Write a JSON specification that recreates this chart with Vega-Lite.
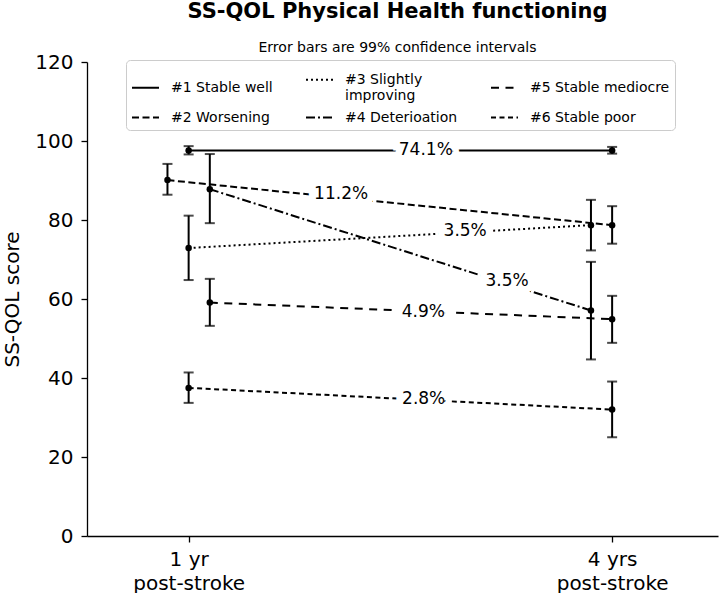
{
  "$schema": "https://vega.github.io/schema/vega-lite/v6.json",
  "width": 631,
  "height": 474,
  "autosize": {"type": "none"},
  "padding": {"left": 87, "top": 62, "right": 2, "bottom": 57},
  "config": {
    "view": {"stroke": null},
    "font": "DejaVu Sans",
    "axis": {
      "grid": false,
      "domainColor": "black",
      "domainWidth": 1.3,
      "tickColor": "black",
      "tickWidth": 1.3,
      "tickSize": 6,
      "labelColor": "black",
      "labelFont": "DejaVu Sans",
      "labelFontSize": 20,
      "titleFont": "DejaVu Sans",
      "titleFontSize": 20,
      "titleFontWeight": "normal",
      "titleColor": "black"
    }
  },
  "title": {
    "text": "SS-QOL Physical Health functioning",
    "subtitle": "Error bars are 99% confidence intervals",
    "font": "DejaVu Sans",
    "subtitleFont": "DejaVu Sans",
    "fontSize": 21,
    "fontWeight": "bold",
    "color": "black",
    "subtitleFontSize": 14,
    "subtitleColor": "black",
    "anchor": "middle",
    "offset": -3,
    "dx": -5,
    "subtitlePadding": 19
  },
  "datasets": {
    "lines": [
      {"group": "#1 Stable well", "x": 0, "mean": 97.6, "lo": 96.6, "hi": 98.7},
      {"group": "#1 Stable well", "x": 1, "mean": 97.6, "lo": 96.8, "hi": 98.5},
      {"group": "#2 Worsening", "x": -0.05, "mean": 90.1, "lo": 86.4, "hi": 94.2},
      {"group": "#2 Worsening", "x": 1, "mean": 78.7, "lo": 74.0, "hi": 83.5},
      {"group": "#3 Slightly improving", "x": 0, "mean": 72.9, "lo": 64.8, "hi": 81.1},
      {"group": "#3 Slightly improving", "x": 0.95, "mean": 78.7, "lo": 72.3, "hi": 85.1},
      {"group": "#4 Deterioation", "x": 0.05, "mean": 87.8, "lo": 79.2, "hi": 96.7},
      {"group": "#4 Deterioation", "x": 0.95, "mean": 57.1, "lo": 44.7, "hi": 69.4},
      {"group": "#5 Stable mediocre", "x": 0.05, "mean": 59.1, "lo": 53.2, "hi": 65.1},
      {"group": "#5 Stable mediocre", "x": 1, "mean": 54.9, "lo": 48.9, "hi": 60.8},
      {"group": "#6 Stable poor", "x": 0, "mean": 37.5, "lo": 33.7, "hi": 41.4},
      {"group": "#6 Stable poor", "x": 1, "mean": 32.0, "lo": 25.0, "hi": 39.1}
    ],
    "labels": [
      {"group": "#1 Stable well", "label": "74.1%", "lx": 0.56, "ly": 97.6},
      {"group": "#2 Worsening", "label": "11.2%", "lx": 0.36, "ly": 86.5},
      {"group": "#3 Slightly improving", "label": "3.5%", "lx": 0.653, "ly": 77.3},
      {"group": "#4 Deterioation", "label": "3.5%", "lx": 0.752, "ly": 64.5},
      {"group": "#5 Stable mediocre", "label": "4.9%", "lx": 0.554, "ly": 56.8},
      {"group": "#6 Stable poor", "label": "2.8%", "lx": 0.555, "ly": 34.7}
    ]
  },
  "layer": [
    {
      "data": {"name": "lines"},
      "mark": {"type": "line", "color": "black", "strokeWidth": 2},
      "encoding": {
        "x": {
          "field": "x", "type": "quantitative", "title": null,
          "scale": {"domain": [-0.24, 1.25], "nice": false, "zero": false},
          "axis": {
            "values": [0, 1],
            "labelExpr": "datum.value == 0 ? ['1 yr', 'post-stroke'] : ['4 yrs', 'post-stroke']",
            "labelLineHeight": 24,
            "labelPadding": 7
          }
        },
        "y": {
          "field": "mean", "type": "quantitative", "title": "SS-QOL score",
          "scale": {"domain": [0, 120], "nice": false},
          "axis": {"values": [0, 20, 40, 60, 80, 100, 120], "labelPadding": 8, "titlePadding": 12}
        },
        "strokeDash": {
          "field": "group", "type": "nominal",
          "scale": {
            "domain": ["#1 Stable well", "#2 Worsening", "#3 Slightly improving", "#4 Deterioation", "#5 Stable mediocre", "#6 Stable poor"],
            "range": [[1, 0], [7, 3.5], [2, 3], [9, 3, 2, 3], [8, 6.5], [5, 3.5]]
          },
          "legend": {
            "orient": "none",
            "legendX": 39,
            "legendY": -2,
            "columns": 3,
            "title": null,
            "symbolType": "stroke",
            "symbolSize": 729,
            "symbolStrokeWidth": 2,
            "symbolStrokeColor": "black",
            "labelFont": "DejaVu Sans",
            "labelFontSize": 14,
            "labelColor": "black",
            "labelLimit": 300,
            "labelOffset": 11,
            "labelExpr": "datum.label == '#3 Slightly improving' ? ['#3 Slightly', 'improving'] : datum.label",
            "strokeColor": "#cccccc",
            "fillColor": "white",
            "cornerRadius": 4,
            "padding": 5,
            "columnPadding": 29,
            "rowPadding": 0
          }
        }
      }
    },
    {
      "data": {"name": "lines"},
      "mark": {"type": "rule", "color": "black", "strokeWidth": 2},
      "encoding": {
        "x": {"field": "x", "type": "quantitative", "title": null},
        "y": {"field": "lo", "type": "quantitative", "title": "SS-QOL score"},
        "y2": {"field": "hi"}
      }
    },
    {
      "data": {"name": "lines"},
      "transform": [{"fold": ["lo", "hi"], "as": ["bound", "value"]}],
      "mark": {"type": "point", "shape": "stroke", "size": 100, "color": "black", "strokeWidth": 2, "filled": false},
      "encoding": {
        "x": {"field": "x", "type": "quantitative", "title": null},
        "y": {"field": "value", "type": "quantitative", "title": "SS-QOL score"}
      }
    },
    {
      "data": {"name": "lines"},
      "mark": {"type": "point", "shape": "circle", "size": 42, "color": "black", "filled": true, "opacity": 1},
      "encoding": {
        "x": {"field": "x", "type": "quantitative", "title": null},
        "y": {"field": "mean", "type": "quantitative", "title": "SS-QOL score"}
      }
    },
    {
      "data": {"name": "labels"},
      "mark": {"type": "text", "fontSize": 17, "font": "DejaVu Sans", "color": "white", "stroke": "white", "strokeWidth": 14, "strokeJoin": "miter", "baseline": "middle", "align": "center"},
      "encoding": {
        "x": {"field": "lx", "type": "quantitative", "title": null},
        "y": {"field": "ly", "type": "quantitative", "title": "SS-QOL score"},
        "text": {"field": "label"}
      }
    },
    {
      "data": {"name": "labels"},
      "mark": {"type": "text", "fontSize": 17, "font": "DejaVu Sans", "color": "black", "baseline": "middle", "align": "center"},
      "encoding": {
        "x": {"field": "lx", "type": "quantitative", "title": null},
        "y": {"field": "ly", "type": "quantitative", "title": "SS-QOL score"},
        "text": {"field": "label"}
      }
    }
  ]
}
